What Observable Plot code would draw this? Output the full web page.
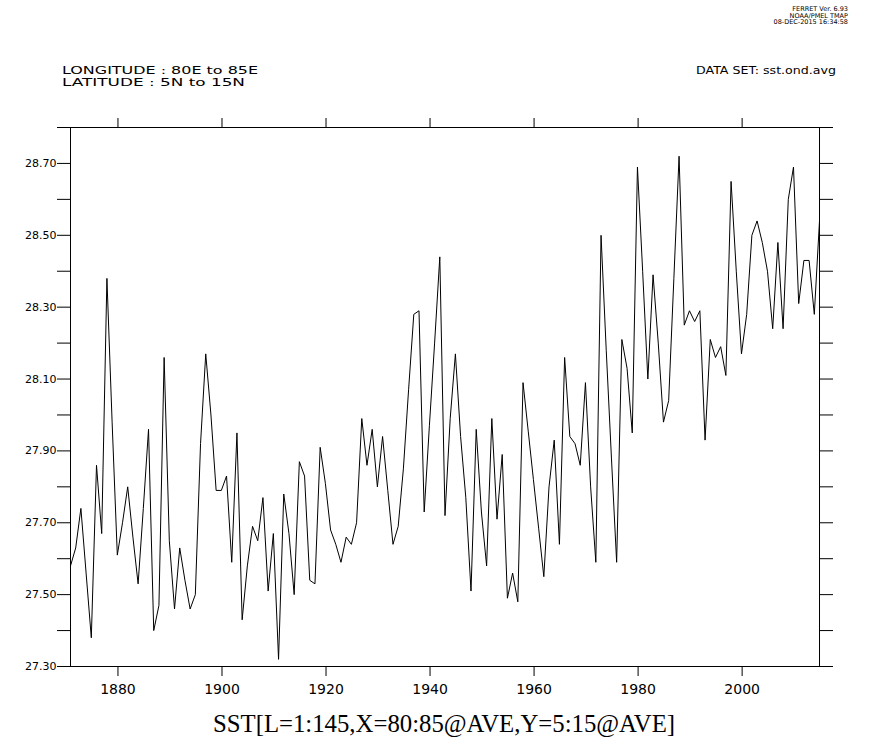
<!DOCTYPE html>
<html>
<head>
<meta charset="utf-8">
<script src="https://cdn.jsdelivr.net/npm/d3@7"></script>
<script src="https://cdn.jsdelivr.net/npm/@observablehq/plot@0.6"></script>
<style>
  body { margin: 0; background: #fff; }
  svg { display: block; }
</style>
</head>
<body>
<div id="chart"></div>
<script>
// OND (Oct-Nov-Dec) seasons, one per year, centred on mid-November
const years = d3.range(1870, 2015);
const sst = [
  27.58, 27.63, 27.74, 27.56, 27.38, 27.86, 27.67, 28.38, 27.98, 27.61,
  27.70, 27.80, 27.66, 27.53, 27.74, 27.96, 27.40, 27.47, 28.16, 27.65,
  27.46, 27.63, 27.54, 27.46, 27.50, 27.92, 28.17, 28.00, 27.79, 27.79,
  27.83, 27.59, 27.95, 27.43, 27.58, 27.69, 27.65, 27.77, 27.51, 27.67,
  27.32, 27.78, 27.67, 27.50, 27.87, 27.83, 27.54, 27.53, 27.91, 27.81,
  27.68, 27.64, 27.59, 27.66, 27.64, 27.70, 27.99, 27.86, 27.96, 27.80,
  27.94, 27.79, 27.64, 27.69, 27.85, 28.07, 28.28, 28.29, 27.73, 27.97,
  28.20, 28.44, 27.72, 27.99, 28.17, 27.94, 27.77, 27.51, 27.96, 27.73,
  27.58, 27.99, 27.71, 27.89, 27.49, 27.56, 27.48, 28.09, 27.955, 27.82,
  27.685, 27.55, 27.80, 27.93, 27.64, 28.16, 27.94, 27.92, 27.86, 28.09,
  27.80, 27.59, 28.50, 28.18, 27.88, 27.59, 28.21, 28.13, 27.95, 28.69,
  28.40, 28.10, 28.39, 28.20, 27.98, 28.04, 28.38, 28.72, 28.25, 28.29,
  28.26, 28.29, 27.93, 28.21, 28.16, 28.19, 28.11, 28.65, 28.40, 28.17,
  28.28, 28.50, 28.54, 28.48, 28.40, 28.24, 28.48, 28.24, 28.60, 28.69,
  28.31, 28.43, 28.43, 28.28, 28.54
];
const yLabelTicks = [27.3, 27.5, 27.7, 27.9, 28.1, 28.3, 28.5, 28.7];
const yMinorTicks = [27.3, 27.4, 27.5, 27.6, 27.7, 27.8, 27.9, 28.0, 28.1, 28.2, 28.3, 28.4, 28.5, 28.6, 28.7, 28.8];
const yDomain = [27.3, 28.8];
const xTicks = [1880, 1900, 1920, 1940, 1960, 1980, 2000];
const headerLeft = ["LONGITUDE : 80E to 85E", "LATITUDE : 5N to 15N"];
const headerRight = "DATA SET: sst.ond.avg";
const stamp = ["FERRET Ver. 6.93", "NOAA/PMEL TMAP", "08-DEC-2015 16:34:58"];
const title = "SST[L=1:145,X=80:85@AVE,Y=5:15@AVE]";

const seasonOffset = 10.5 / 12; // mid-November
const data = years.map((y, i) => ({t: y + seasonOffset, v: sst[i]}));

const sans = "'DejaVu Sans', 'Liberation Sans', sans-serif";

const chart = Plot.plot({
  width: 872,
  height: 751,
  marginTop: 127,
  marginBottom: 85,
  marginLeft: 70,
  marginRight: 53,
  style: {fontFamily: sans, background: "#fff", color: "#000"},
  x: {domain: [years[0] + seasonOffset, years[years.length - 1] + seasonOffset]},
  y: {domain: yDomain},
  marks: [
    Plot.axisY(yMinorTicks, {anchor: "left", tickSize: 13, tickFormat: () => "", label: null}),
    Plot.axisY(yLabelTicks, {anchor: "left", tickSize: 0, tickPadding: 14, tickFormat: d3.format(".2f"), fontSize: 11, label: null}),
    Plot.axisY(yMinorTicks, {anchor: "right", tickSize: 13, tickFormat: () => "", label: null}),
    Plot.axisX(xTicks, {anchor: "top", tickSize: 10, tickFormat: () => "", label: null}),
    Plot.axisX(xTicks, {anchor: "bottom", tickSize: 10, tickPadding: 8, tickFormat: d => String(d), fontSize: 14, label: null}),
    Plot.line(data, {x: "t", y: "v", stroke: "#000", strokeWidth: 1}),
    Plot.frame({stroke: "#000", strokeWidth: 1})
  ]
});

const svg = d3.select(chart);
svg.selectAll("text.hdrL").data(headerLeft).join("text")
  .attr("class", "hdrL")
  .attr("x", 62).attr("y", (d, i) => 74 + i * 12)
  .attr("text-anchor", "start")
  .attr("font-family", sans).attr("font-size", 11)
  .attr("textLength", (d, i) => i === 0 ? 196 : 183)
  .attr("lengthAdjust", "spacingAndGlyphs")
  .text(d => d);
svg.append("text")
  .attr("x", 836).attr("y", 74).attr("text-anchor", "end")
  .attr("font-family", sans).attr("font-size", 11)
  .attr("textLength", 140).attr("lengthAdjust", "spacingAndGlyphs")
  .text(headerRight);
svg.selectAll("text.stamp").data(stamp).join("text")
  .attr("class", "stamp")
  .attr("x", 848).attr("y", (d, i) => 11 + i * 6.5).attr("text-anchor", "end")
  .attr("font-family", sans).attr("font-size", 6.5)
  .text(d => d);
svg.append("text")
  .attr("x", 444).attr("y", 732).attr("text-anchor", "middle")
  .attr("font-family", "'Liberation Serif', 'DejaVu Serif', serif").attr("font-size", 25)
  .attr("textLength", 462).attr("lengthAdjust", "spacingAndGlyphs")
  .text(title);

document.getElementById("chart").appendChild(chart);
</script>
</body>
</html>
